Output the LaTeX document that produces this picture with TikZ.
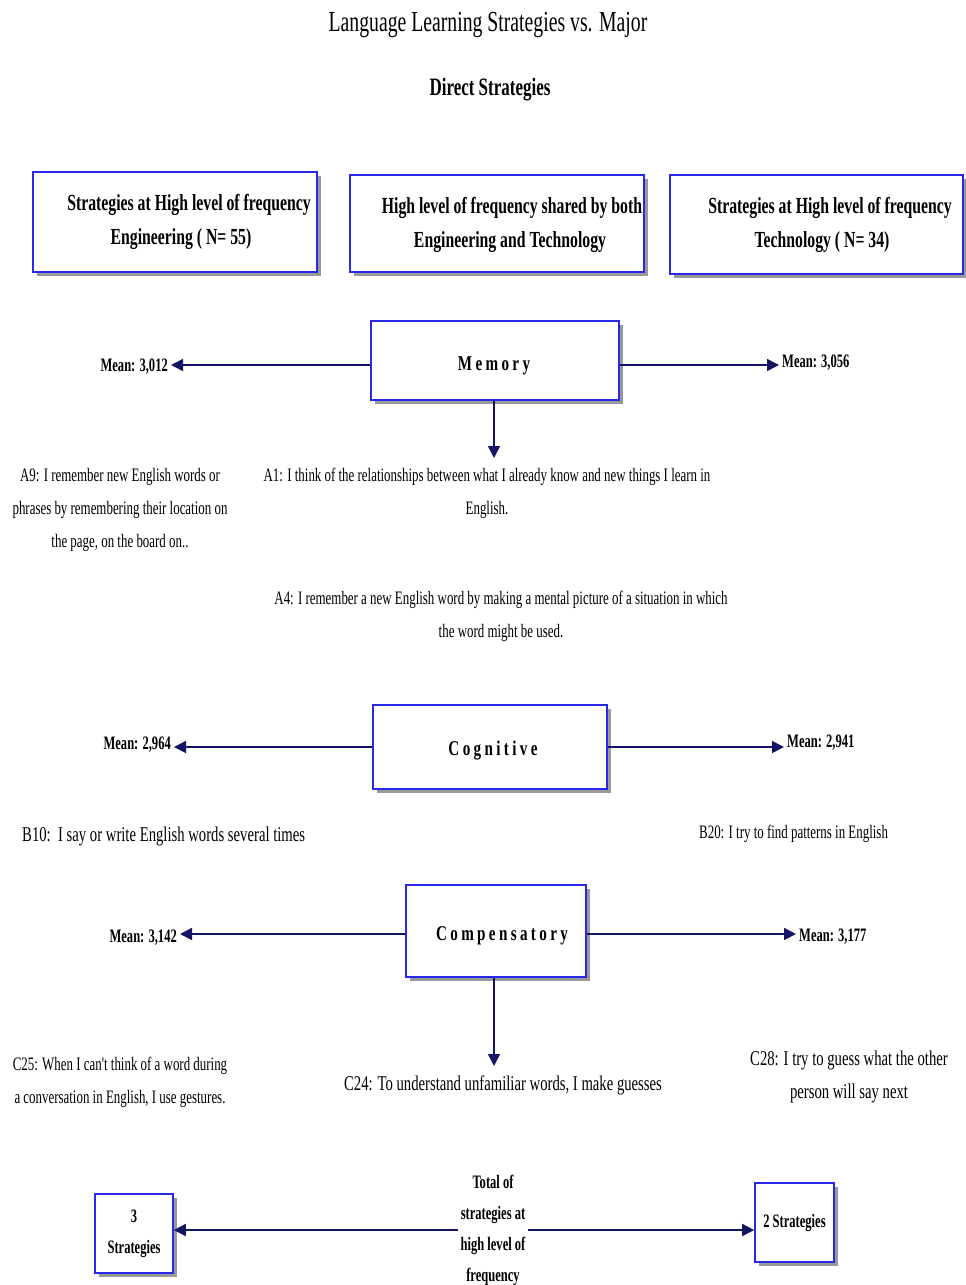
\documentclass[tikz,border=0pt]{standalone}
\usepackage{fontspec}
\usetikzlibrary{arrows.meta,shadows}
\setmainfont{Liberation Serif}
\newfontfamily\cond[FakeStretch=0.68]{Liberation Serif}
\newfontfamily\bigfont[FakeStretch=0.70]{Liberation Serif}
\newfontfamily\hdrfont[FakeStretch=0.685]{Liberation Serif}
\newfontfamily\meanfont[FakeStretch=0.66]{Liberation Serif}
\newfontfamily\ttl[FakeStretch=0.68]{Liberation Serif}
\newfontfamily\spaced[FakeStretch=0.72,LetterSpace=16]{Liberation Serif}
\definecolor{boxblue}{RGB}{40,40,230}
\definecolor{navy}{RGB}{20,20,100}
\tikzset{
  box/.style={draw=boxblue, line width=1.6pt, fill=white, inner sep=0pt,
    drop shadow={shadow xshift=4pt, shadow yshift=-4pt, fill=gray!80, opacity=1},
    align=center},
  txt/.style={font=\cond\fontsize{19}{33}\selectfont, align=center, inner sep=0pt},
  bigtxt/.style={font=\bigfont\fontsize{21}{33}\selectfont, align=center, inner sep=0pt},
  hdr/.style={font=\hdrfont\bfseries\fontsize{23}{34}\selectfont, align=center},
  mean/.style={font=\meanfont\bfseries\fontsize{19}{20}\selectfont, inner sep=3pt},
  cat/.style={font=\spaced\bfseries\fontsize{21}{22}\selectfont},
  tally/.style={font=\meanfont\bfseries\fontsize{19}{31}\selectfont, align=center},
  link/.style={draw=navy, line width=1.6pt, -{Triangle[length=12pt,width=12pt]}}
}
\begin{document}
\begin{tikzpicture}[x=1pt,y=-1pt]
\useasboundingbox (0,0) rectangle (966,1285);

% titles
\node (title) at (488,25) {\ttl\fontsize{29}{32}\selectfont Language Learning Strategies vs. Major};
\node (sub) at (490,90) {\ttl\bfseries\fontsize{25}{28}\selectfont Direct Strategies};

% header boxes
\node[box, minimum width=284pt, minimum height=100pt] (h1) at (175,222) {};
\node[hdr] (h1t) at (181,222) {\hspace*{16pt}Strategies at High level of frequency\\Engineering ( N= 55)};
\node[box, minimum width=294pt, minimum height=97pt] (h2) at (497,223.5) {};
\node[hdr] (h2t) at (510,224.5) {\hspace*{4pt}High level of frequency shared by both\\Engineering and Technology};
\node[box, minimum width=293pt, minimum height=99pt] (h3) at (816.5,224.5) {};
\node[hdr] (h3t) at (822,224.5) {\hspace*{16pt}Strategies at High level of frequency\\Technology ( N= 34)};

% Memory
\node[box, minimum width=248pt, minimum height=79pt] (mem) at (495,360.5) {};
\node[cat] (memt) at (494,366) {Memory};
\node[mean, anchor=east] (m1) at (171,367) {Mean: 3,012};
\node[mean, anchor=west] (m2) at (779,363) {Mean: 3,056};
\draw[link] (mem.west |- 0,365) -- (m1.east |- 0,365);
\draw[link] (mem.east |- 0,365) -- (m2.west |- 0,365);
\node[txt] (a9) at (120,510) {A9: I remember new English words or\\phrases by remembering their location on\\the page, on the board on..};
\node[txt] (a1) at (487,493) {A1: I think of the relationships between what I already know and new things I learn in\\English.};
\draw[link] (mem.south -| 494,0) -- (494,458);
\node[txt] (a4) at (501,616) {A4: I remember a new English word by making a mental picture of a situation in which\\the word might be used.};

% Cognitive
\node[box, minimum width=234pt, minimum height=84pt] (cog) at (490,747) {};
\node[cat] (cogt) at (493,751) {Cognitive};
\node[mean, anchor=east] (c1) at (174,745) {Mean: 2,964};
\node[mean, anchor=west] (c2) at (784,743) {Mean: 2,941};
\draw[link] (cog.west |- 0,747) -- (c1.east |- 0,747);
\draw[link] (cog.east |- 0,747) -- (c2.west |- 0,747);
\node[bigtxt, anchor=west] (b10) at (22,836) {B10:\ \ I say or write English words several times};
\node[txt, anchor=west] (b20) at (699,834) {B20: I try to find patterns in English};

% Compensatory
\node[box, minimum width=180pt, minimum height=92pt] (comp) at (496,931) {};
\node[cat] (compt) at (502,936) {Compensatory};
\node[mean, anchor=east] (p1) at (180,938) {Mean: 3,142};
\node[mean, anchor=west] (p2) at (796,937) {Mean: 3,177};
\draw[link] (comp.west |- 0,934) -- (p1.east |- 0,934);
\draw[link] (comp.east |- 0,934) -- (p2.west |- 0,934);
\node[txt] (c25) at (120,1082) {C25: When I can't think of a word during\\a conversation in English, I use gestures.};
\node[bigtxt] (c24) at (503,1085) {C24: To understand unfamiliar words, I make guesses};
\draw[link] (comp.south -| 494,0) -- (494,1066);
\node[bigtxt] (c28) at (849,1077) {C28: I try to guess what the other\\person will say next};

% totals
\node[box, tally, minimum width=78pt, minimum height=79pt] (lb) at (134,1233.5) {3\\Strategies};
\node[box, tally, minimum width=79pt, minimum height=79pt] (rb) at (794.5,1222.5) {2 Strategies};
\node[tally, inner sep=2pt] (tot) at (493,1230)
  {Total of\\strategies at\\high level of\\frequency};
\draw[link] (tot.west |- 0,1230) -- (lb.east |- 0,1230);
\draw[link] (tot.east |- 0,1230) -- (rb.west |- 0,1230);
\end{tikzpicture}
\end{document}
